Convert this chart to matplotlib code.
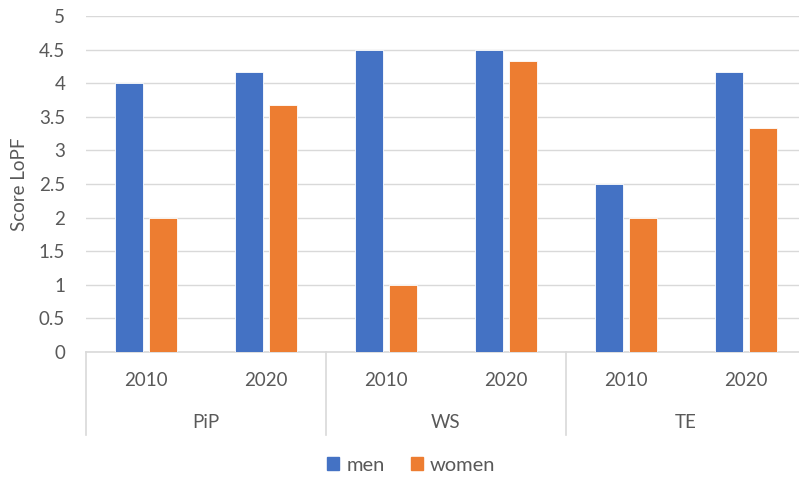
import matplotlib.pyplot as plt
from matplotlib.transforms import blended_transform_factory
from matplotlib.lines import Line2D
from matplotlib.patches import Patch
import numpy as np

plt.rcParams['font.family'] = ['Lato', 'DejaVu Sans']

# data
groups = ['PiP', 'WS', 'TE']
years = ['2010', '2020']
men = [4.0, 4.17, 4.5, 4.5, 2.5, 4.17]
women = [2.0, 3.67, 1.0, 4.33, 2.0, 3.33]

blue = '#4472C4'
orange = '#ED7D31'
txt = '#595959'
grid = '#D9D9D9'
fs = 13.5

fig = plt.figure(figsize=(7.99, 4.78), dpi=100)
# plot area runs a little past the right edge, as in the reference
ax = fig.add_axes([86 / 799, 1 - 352 / 478, 720 / 799, 336 / 478])

x = np.arange(len(men))
w = 0.228
off = 0.143
ax.bar(x - off, men, width=w, color=blue, edgecolor='white', linewidth=0.6, zorder=3)
ax.bar(x + off, women, width=w, color=orange, edgecolor='white', linewidth=0.6, zorder=3)

ax.set_xlim(-0.5, len(men) - 0.5)
ax.set_ylim(0, 5)
ax.set_yticks(np.arange(0, 5.01, 0.5))
ax.set_yticklabels(['0', '0.5', '1', '1.5', '2', '2.5', '3', '3.5', '4', '4.5', '5'])
ax.yaxis.grid(True, color=grid, linewidth=1, zorder=0)
ax.set_axisbelow(True)
for s in ['top', 'right', 'left']:
    ax.spines[s].set_visible(False)
ax.spines['bottom'].set_color(grid)
ax.spines['bottom'].set_linewidth(1.2)
ax.tick_params(axis='y', length=0, pad=15, labelsize=fs, labelcolor=txt)
ax.set_xticks([])
ax.set_ylabel('Score LoPF', fontsize=fs, color=txt, labelpad=8)

# multi-level category axis
tr = blended_transform_factory(ax.transData, ax.transAxes)
for i, xi in enumerate(x):
    ax.text(xi, -0.085, years[i % 2], transform=tr, ha='center', va='center',
            fontsize=fs, color=txt)
for g, name in enumerate(groups):
    ax.text(2 * g + 0.5, -0.21, name, transform=tr, ha='center', va='center',
            fontsize=fs, color=txt)
for sx in [-0.5, 1.5, 3.5, 5.5]:
    ax.add_line(Line2D([sx, sx], [0, -0.247], transform=tr, color=grid,
                       linewidth=1.2, clip_on=False))

handles = [Patch(color=blue), Patch(color=orange)]
fig.legend(handles, ['men', 'women'], loc='center', bbox_to_anchor=(0.515, 0.027),
           ncol=2, frameon=False, fontsize=14.5, labelcolor=txt,
           handlelength=0.6, handleheight=0.6, handletextpad=0.35, columnspacing=1.3)

fig.savefig('out.png', dpi=100)
